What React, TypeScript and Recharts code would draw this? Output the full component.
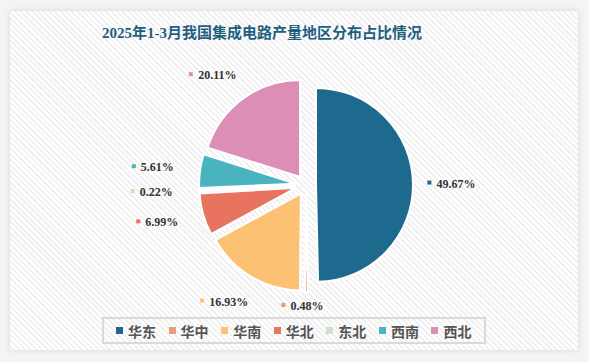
import {Legend, Pie, PieChart, Cell, Sector} from 'recharts';

const regions = ['华东', '华中', '华南', '华北', '东北', '西南', '西北'];
const shares = [49.67, 0.48, 16.93, 6.99, 0.22, 5.61, 20.11];
const colors = ['#1d6a8e', '#e99c7a', '#fcc172', '#e87460', '#cfe0cf', '#4ab3c0', '#dc8eb6'];

const data = regions.map((name, i) => ({name, value: shares[i]}));

const RAD = Math.PI / 180;
const EXPLODE = 10;

const ExplodedSector = (props: any) => {
  const {cx, cy, midAngle} = props;
  const dx = EXPLODE * Math.cos(-midAngle * RAD);
  const dy = EXPLODE * Math.sin(-midAngle * RAD);
  return <Sector {...props} cx={cx + dx} cy={cy + dy} stroke="#ffffff" strokeWidth={2} />;
};

// labels sit on an ellipse around the pie, like the original's outside labels
const renderLabel = (props: any) => {
  const {cx, cy, midAngle, outerRadius, index, value} = props;
  const rx = outerRadius + 53;
  const ry = outerRadius + 39;
  const x = cx + rx * Math.cos(-midAngle * RAD);
  const y = Math.min(cy + ry * Math.sin(-midAngle * RAD), cy + 121);
  const text = `${value.toFixed(2)}%`;
  const w = text.length * 6.2;
  return (
    <g>
      <rect x={x - w / 2 - 10} y={y - 3} width={4} height={4} fill={colors[index]} />
      <text
        x={x}
        y={y}
        dy={4}
        textAnchor="middle"
        fontSize={12}
        fontWeight="bold"
        fill="#333333"
        fontFamily="'Liberation Serif', serif"
      >
        {text}
      </text>
    </g>
  );
};

const LegendBox = () => (
  <div
    style={{
      display: 'flex',
      alignItems: 'center',
      boxSizing: 'border-box',
      width: 384,
      height: 27,
      border: '2px solid #d9d9d9',
      paddingLeft: 12,
    }}
  >
    {regions.map((name, i) => (
      <div key={name} style={{display: 'flex', alignItems: 'center', width: 54}}>
        <span style={{display: 'inline-block', width: 7, height: 7, background: colors[i], marginRight: 5}} />
        <span
          style={{
            fontSize: 14,
            fontWeight: 'bold',
            color: '#555555',
            fontFamily: "'Noto Sans CJK SC', sans-serif",
            lineHeight: '16px',
          }}
        >
          {name}
        </span>
      </div>
    ))}
  </div>
);

export default function App() {
  return (
    <div style={{position: 'absolute', left: 0, top: 0, width: 589, height: 362, background: '#f4f4f4'}}>
      <div
        style={{
          position: 'absolute',
          left: 10,
          top: 11,
          width: 568,
          height: 339,
          background: 'repeating-linear-gradient(45deg, #ffffff 0px, #ffffff 2px, #f1f1f1 2px, #f1f1f1 4px)',
          boxShadow: '0 0 6px rgba(0,0,0,0.12)',
        }}
      />
      <div
        style={{
          position: 'absolute',
          left: 0,
          top: 22,
          width: 524,
          textAlign: 'center',
          fontSize: 15,
          fontWeight: 'bold',
          color: '#1f5f7e',
          fontFamily: "'Liberation Serif', 'Noto Sans CJK SC', serif",
          lineHeight: '22px',
        }}
      >
        2025年1-3月我国集成电路产量地区分布占比情况
      </div>
      <div style={{position: 'absolute', left: 0, top: 0}}>
        <PieChart width={589} height={362}>
          <Pie
            data={data}
            dataKey="value"
            nameKey="name"
            cx={301}
            cy={180}
            outerRadius={97}
            startAngle={90}
            endAngle={-270}
            label={renderLabel}
            labelLine={false}
            shape={ExplodedSector}
            activeShape={ExplodedSector}
            inactiveShape={ExplodedSector}
            isAnimationActive={false}
          >
            {data.map((d, i) => (
              <Cell key={d.name} fill={colors[i]} />
            ))}
          </Pie>
          <Legend
            content={LegendBox}
            wrapperStyle={{position: 'absolute', left: 102, top: 317, width: 384, height: 27}}
          />
        </PieChart>
      </div>
    </div>
  );
}
